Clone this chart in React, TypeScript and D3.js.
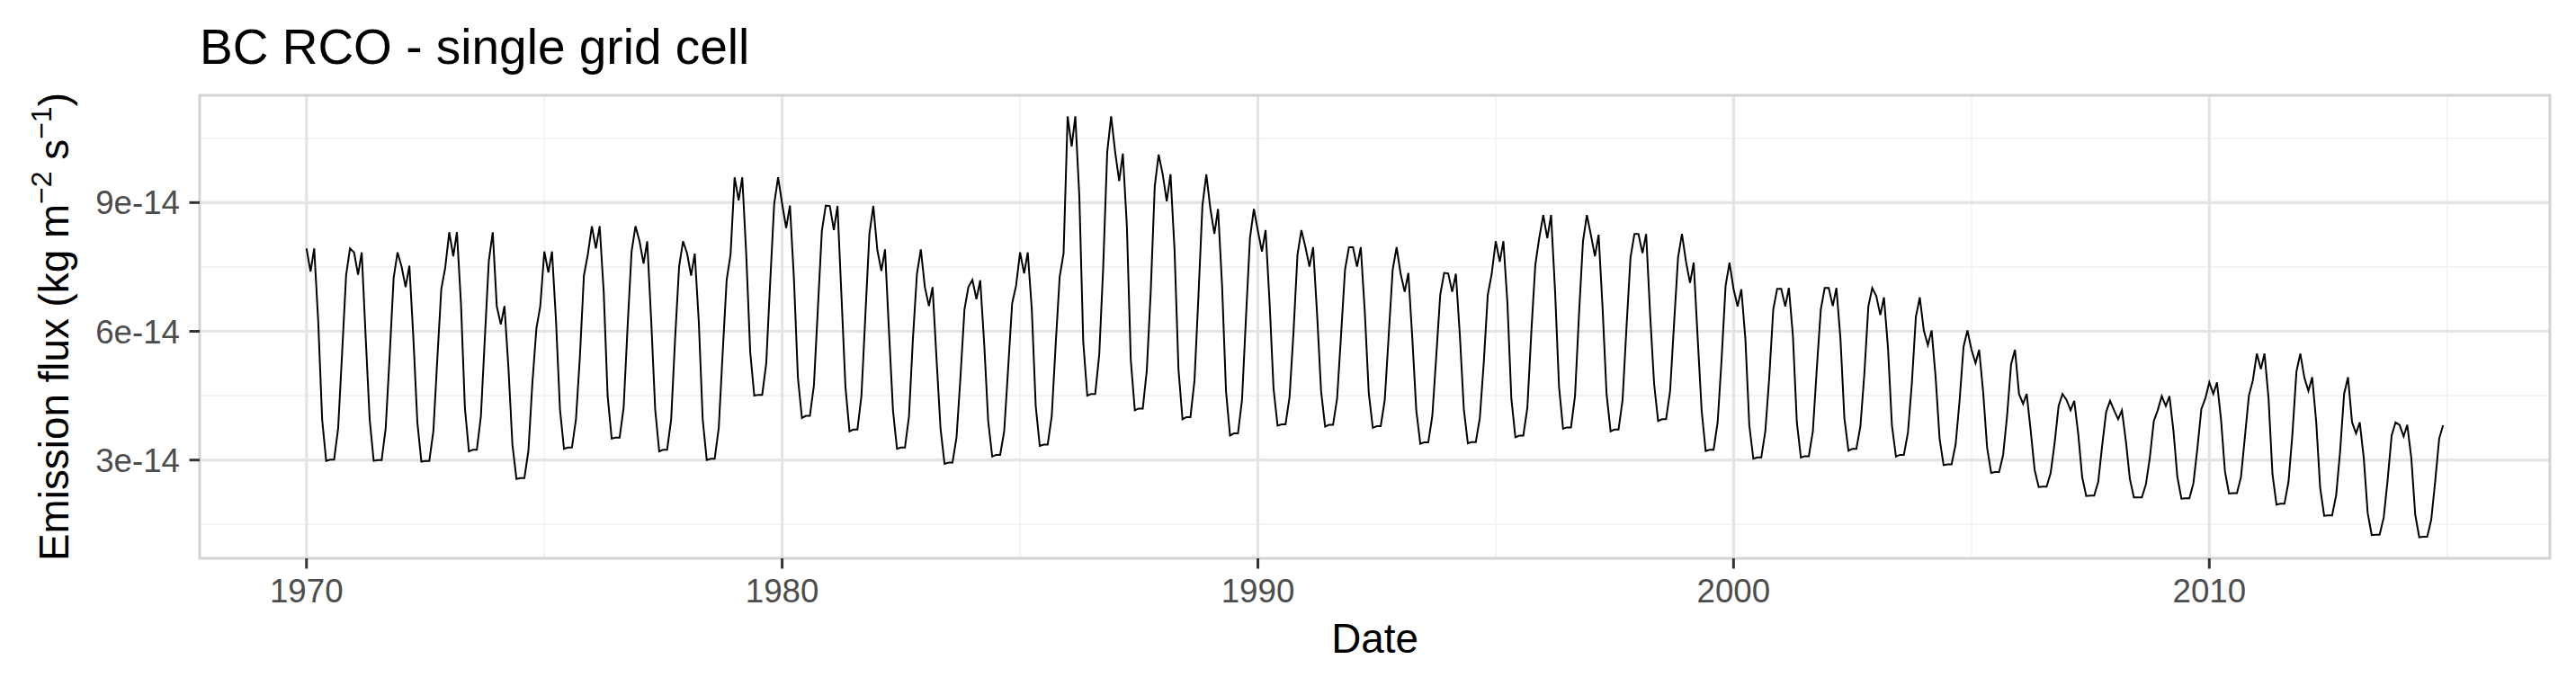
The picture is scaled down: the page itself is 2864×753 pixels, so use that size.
import React from 'react';
import * as d3 from 'd3';

// Monthly BC RCO emission flux, in units of 1e-14 kg m-2 s-1, Jan 1970 .. Dec 2014
const START_YEAR = 1970;
const FLUX_UNIT = 1e-14;

const flux1970s = [
  7.93, 7.39, 7.93, 6.23, 3.95, 2.98, 3.01, 3.01, 3.74, 5.47, 7.30, 7.93,
  7.84, 7.32, 7.84, 5.82, 3.95, 2.98, 3.00, 3.00, 3.74, 5.40, 7.24, 7.84,
  7.51, 7.03, 7.53, 5.82, 3.88, 2.96, 2.98, 2.98, 3.67, 5.33, 6.99, 7.48,
  8.31, 7.75, 8.31, 6.65, 4.22, 3.20, 3.24, 3.24, 4.02, 5.82, 7.65, 8.31,
  6.58, 6.16, 6.59, 5.12, 3.36, 2.56, 2.58, 2.58, 3.22, 4.78, 6.06, 6.59,
  7.86, 7.37, 7.86, 6.23, 4.19, 3.26, 3.29, 3.29, 3.95, 5.40, 7.30, 7.79,
  8.45, 7.93, 8.45, 6.92, 4.50, 3.50, 3.52, 3.52, 4.22, 6.09, 7.86, 8.45,
  8.10, 7.58, 8.10, 6.23, 4.19, 3.20, 3.24, 3.24, 3.95, 5.82, 7.51, 8.10,
  7.82, 7.30, 7.81, 6.23, 3.95, 3.00, 3.03, 3.03, 3.74, 5.47, 7.20, 7.79,
  9.59, 9.05, 9.59, 7.75, 5.51, 4.50, 4.52, 4.52, 5.26, 7.13, 8.97, 9.59,
];

const flux1980s = [
  8.97, 8.41, 8.93, 7.20, 4.92, 3.98, 4.03, 4.03, 4.74, 6.51, 8.34, 8.93,
  8.92, 8.36, 8.92, 6.79, 4.71, 3.67, 3.71, 3.71, 4.50, 6.37, 8.27, 8.92,
  7.89, 7.41, 7.91, 5.96, 4.16, 3.26, 3.29, 3.29, 4.02, 5.82, 7.34, 7.91,
  7.03, 6.59, 7.03, 5.33, 3.74, 2.91, 2.94, 2.94, 3.53, 4.92, 6.51, 7.03,
  7.20, 6.75, 7.19, 5.68, 3.91, 3.08, 3.12, 3.12, 3.67, 5.12, 6.65, 7.06,
  7.84, 7.35, 7.84, 6.51, 4.26, 3.33, 3.36, 3.36, 4.02, 5.68, 7.27, 7.82,
  11.01, 10.31, 11.01, 9.14, 5.75, 4.50, 4.54, 4.54, 5.47, 7.48, 10.18, 11.01,
  10.18, 9.50, 10.14, 8.45, 5.33, 4.16, 4.20, 4.20, 5.09, 6.92, 9.38, 10.12,
  9.66, 9.03, 9.66, 7.89, 5.12, 3.95, 4.00, 4.00, 4.85, 6.79, 8.93, 9.66,
  8.86, 8.27, 8.85, 7.06, 4.61, 3.57, 3.62, 3.62, 4.40, 6.30, 8.17, 8.85,
];

const flux1990s = [
  8.34, 7.86, 8.36, 6.65, 4.67, 3.80, 3.83, 3.83, 4.47, 5.96, 7.79, 8.36,
  7.96, 7.51, 7.96, 6.37, 4.61, 3.78, 3.82, 3.82, 4.43, 5.89, 7.44, 7.96,
  7.96, 7.51, 7.96, 6.44, 4.57, 3.75, 3.79, 3.79, 4.40, 5.89, 7.44, 7.96,
  7.34, 6.92, 7.36, 5.82, 4.16, 3.38, 3.41, 3.41, 4.02, 5.40, 6.85, 7.36,
  7.35, 6.92, 7.34, 5.89, 4.19, 3.39, 3.42, 3.42, 3.98, 5.26, 6.85, 7.34,
  8.10, 7.62, 8.10, 6.65, 4.43, 3.53, 3.57, 3.57, 4.22, 5.96, 7.55, 8.17,
  8.71, 8.17, 8.71, 6.92, 4.71, 3.73, 3.76, 3.76, 4.50, 6.37, 8.10, 8.71,
  8.24, 7.75, 8.25, 6.51, 4.54, 3.67, 3.71, 3.71, 4.40, 6.09, 7.72, 8.27,
  8.27, 7.82, 8.27, 6.37, 4.78, 3.91, 3.95, 3.95, 4.61, 6.16, 7.72, 8.27,
  7.62, 7.13, 7.60, 5.82, 4.16, 3.21, 3.24, 3.24, 3.88, 5.33, 7.06, 7.60,
];

const flux2000s = [
  6.99, 6.58, 6.98, 5.82, 3.81, 3.03, 3.06, 3.06, 3.67, 4.92, 6.51, 6.99,
  6.99, 6.58, 7.01, 5.89, 3.88, 3.06, 3.09, 3.09, 3.67, 5.12, 6.51, 7.01,
  7.01, 6.59, 7.01, 5.82, 3.98, 3.22, 3.26, 3.26, 3.78, 4.99, 6.58, 7.01,
  6.82, 6.38, 6.79, 5.61, 3.81, 3.08, 3.12, 3.12, 3.64, 4.78, 6.34, 6.79,
  6.02, 5.68, 6.02, 4.92, 3.50, 2.88, 2.90, 2.90, 3.36, 4.36, 5.64, 6.02,
  5.57, 5.26, 5.57, 4.57, 3.29, 2.70, 2.72, 2.72, 3.12, 4.02, 5.23, 5.57,
  4.54, 4.31, 4.54, 3.67, 2.77, 2.37, 2.38, 2.38, 2.70, 3.39, 4.26, 4.54,
  4.40, 4.16, 4.38, 3.60, 2.60, 2.16, 2.17, 2.17, 2.49, 3.33, 4.12, 4.38,
  4.16, 3.95, 4.16, 3.43, 2.56, 2.13, 2.13, 2.13, 2.43, 3.05, 3.91, 4.16,
  4.49, 4.26, 4.49, 3.67, 2.60, 2.10, 2.11, 2.11, 2.46, 3.26, 4.19, 4.43,
];

const flux2010s = [
  4.81, 4.54, 4.81, 3.95, 2.74, 2.22, 2.23, 2.23, 2.60, 3.53, 4.50, 4.85,
  5.48, 5.12, 5.48, 4.43, 2.67, 1.96, 1.98, 1.98, 2.49, 3.60, 5.06, 5.48,
  4.92, 4.61, 4.93, 3.88, 2.36, 1.70, 1.71, 1.71, 2.18, 3.19, 4.54, 4.93,
  3.88, 3.62, 3.88, 3.05, 1.77, 1.25, 1.26, 1.26, 1.66, 2.53, 3.57, 3.88,
  3.82, 3.55, 3.82, 3.05, 1.73, 1.20, 1.21, 1.21, 1.61, 2.49, 3.50, 3.81,
];

const yTickValues = [3e-14, 6e-14, 9e-14];
const yTickLabels = ['3e-14', '6e-14', '9e-14'];
const xTickYears = [1970, 1980, 1990, 2000, 2010];

const TITLE = 'BC RCO - single grid cell';
const X_TITLE = 'Date';

const FONT = '"Liberation Sans", Arial, Helvetica, sans-serif';

export default function App() {
  const W = 2864;
  const H = 753;
  const panel = { left: 222, right: 2835, top: 106, bottom: 621 };

  const values = [...flux1970s, ...flux1980s, ...flux1990s, ...flux2000s, ...flux2010s].map(
    (v) => v * FLUX_UNIT
  );
  const data = values.map((v, i) => ({ date: new Date(Date.UTC(START_YEAR, i, 1)), value: v }));

  const [d0, d1] = d3.extent(data, (d) => d.date) as [Date, Date];
  const span = +d1 - +d0;
  const x = d3
    .scaleUtc()
    .domain([new Date(+d0 - 0.05 * span), new Date(+d1 + 0.05 * span)])
    .range([panel.left, panel.right]);

  const [v0, v1] = d3.extent(values) as [number, number];
  const vs = v1 - v0;
  const y = d3
    .scaleLinear()
    .domain([v0 - 0.05 * vs, v1 + 0.05 * vs])
    .range([panel.bottom, panel.top]);

  const step = yTickValues[1] - yTickValues[0];
  const yMinor: number[] = [];
  for (let t = yTickValues[0] - step / 2; t <= y.domain()[1]; t += step) {
    if (t >= y.domain()[0]) yMinor.push(t);
  }
  const xMinorYears: number[] = [];
  for (let yr = xTickYears[0] - 5; yr <= xTickYears[xTickYears.length - 1] + 5; yr += 10) {
    const px = x(new Date(Date.UTC(yr, 0, 1)));
    if (px >= panel.left && px <= panel.right) xMinorYears.push(yr);
  }

  const line = d3
    .line<{ date: Date; value: number }>()
    .x((d) => x(d.date))
    .y((d) => y(d.value));

  const gridMajor = '#E4E4E4';
  const gridMinor = '#F2F2F2';
  const midY = (panel.top + panel.bottom) / 2;
  const midX = (panel.left + panel.right) / 2;

  return (
    <div style={{ position: 'absolute', left: 0, top: 0 }}>
      <svg width={W} height={H} xmlns="http://www.w3.org/2000/svg" style={{ display: 'block' }}>
        <rect x={0} y={0} width={W} height={H} fill="#FFFFFF" />
        <rect
          x={panel.left}
          y={panel.top}
          width={panel.right - panel.left}
          height={panel.bottom - panel.top}
          fill="#FFFFFF"
        />
        {/* minor grid */}
        {yMinor.map((t) => (
          <line key={'ym' + t} x1={panel.left} x2={panel.right} y1={y(t)} y2={y(t)} stroke={gridMinor} strokeWidth={1.6} />
        ))}
        {xMinorYears.map((yr) => {
          const px = x(new Date(Date.UTC(yr, 0, 1)));
          return <line key={'xm' + yr} x1={px} x2={px} y1={panel.top} y2={panel.bottom} stroke={gridMinor} strokeWidth={1.6} />;
        })}
        {/* major grid */}
        {yTickValues.map((t) => (
          <line key={'yM' + t} x1={panel.left} x2={panel.right} y1={y(t)} y2={y(t)} stroke={gridMajor} strokeWidth={3.2} />
        ))}
        {xTickYears.map((yr) => {
          const px = x(new Date(Date.UTC(yr, 0, 1)));
          return <line key={'xM' + yr} x1={px} x2={px} y1={panel.top} y2={panel.bottom} stroke={gridMajor} strokeWidth={3.2} />;
        })}
        {/* data line */}
        <path d={line(data) || ''} fill="none" stroke="#000000" strokeWidth={2} strokeLinejoin="miter" />
        {/* panel border */}
        <rect
          x={panel.left}
          y={panel.top}
          width={panel.right - panel.left}
          height={panel.bottom - panel.top}
          fill="none"
          stroke="#D3D3D3"
          strokeWidth={3}
        />
        {/* y axis ticks & labels */}
        {yTickValues.map((t, i) => (
          <g key={'yt' + t}>
            <line x1={panel.left - 11.5} x2={panel.left} y1={y(t)} y2={y(t)} stroke="#333333" strokeWidth={3} />
            <text
              x={panel.left - 22}
              y={y(t)}
              dy="0.355em"
              textAnchor="end"
              fontFamily={FONT}
              fontSize={36.7}
              fill="#4D4D4D"
            >
              {yTickLabels[i]}
            </text>
          </g>
        ))}
        {/* x axis ticks & labels */}
        {xTickYears.map((yr) => {
          const px = x(new Date(Date.UTC(yr, 0, 1)));
          return (
            <g key={'xt' + yr}>
              <line x1={px} x2={px} y1={panel.bottom} y2={panel.bottom + 11.5} stroke="#333333" strokeWidth={3} />
              <text x={px} y={670} textAnchor="middle" fontFamily={FONT} fontSize={36.7} fill="#4D4D4D">
                {String(yr)}
              </text>
            </g>
          );
        })}
        {/* axis titles */}
        <text x={midX} y={726} textAnchor="middle" fontFamily={FONT} fontSize={45.8} fill="#000000">
          {X_TITLE}
        </text>
        <text
          transform={`translate(${76},${midY}) rotate(-90)`}
          textAnchor="middle"
          fontFamily={FONT}
          fontSize={45.8}
          fill="#000000"
        >
          <tspan>Emission flux (kg m</tspan>
          <tspan fontSize={32} dy={-19}>{'\u22122'}</tspan>
          <tspan dy={19}> s</tspan>
          <tspan fontSize={32} dy={-19}>{'\u22121'}</tspan>
          <tspan dy={19}>)</tspan>
        </text>
        {/* title */}
        <text x={panel.left} y={71} fontFamily={FONT} fontSize={55} fill="#000000">
          {TITLE}
        </text>
      </svg>
    </div>
  );
}
